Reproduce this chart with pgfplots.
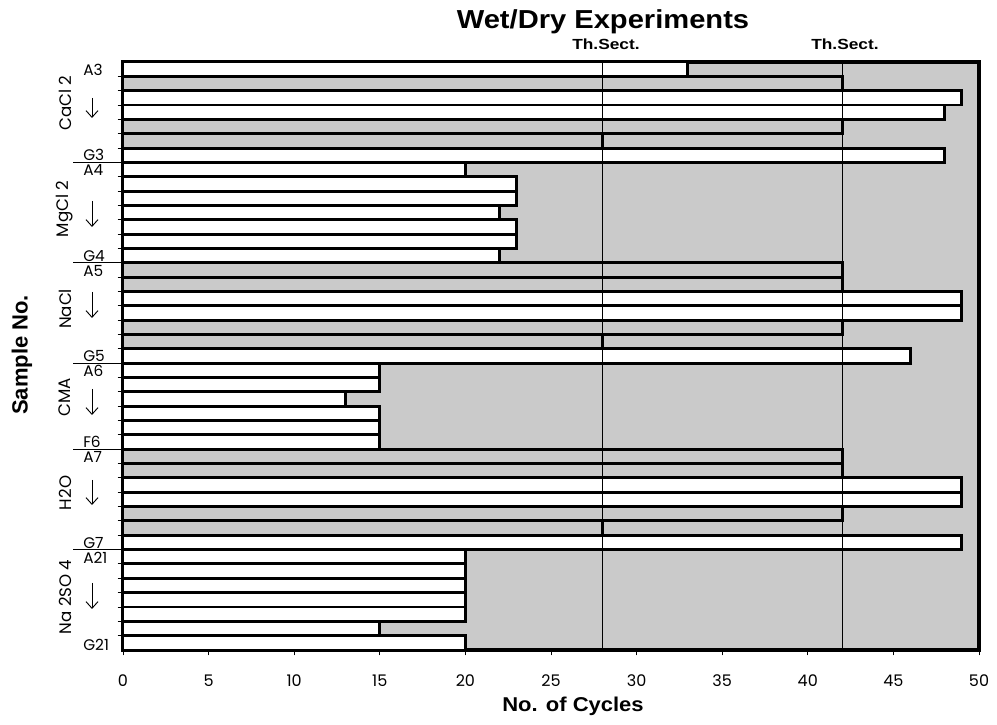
\documentclass[border=0pt]{standalone}
\usepackage{fontspec}
\setmainfont{Liberation Sans}
\newfontfamily\pop{Poppins}
\usepackage{graphicx}
\usepackage{pgfplots}
\usepackage{pgfplotstable}
\pgfplotsset{compat=1.18}
\usetikzlibrary{arrows.meta}
\definecolor{stip}{RGB}{202,202,202}

% white bars (y = row position, 41 = top)
\pgfplotstableread{
y v
41 33
39 49
38 48
35 48
34 20
33 23
32 23
31 22
30 23
29 23
28 22
25 49
24 49
21 46
20 15
19 15
18 13
17 15
16 15
15 15
12 49
11 49
8 49
7 20
6 20
5 20
4 20
3 20
2 15
1 20
}\whitebars

% grey bars
\pgfplotstableread{
y v
40 42
37 42
36 28
27 42
26 42
23 42
22 28
14 42
13 42
10 42
9 28
}\greybars

\tikzset{
  lab/.style={anchor=west, inner sep=0pt, font=\pop\fontsize{11.5}{13}\selectfont},
  labG/.style={anchor=base west, inner sep=0pt, font=\pop\fontsize{11.5}{13}\selectfont},
  labA/.style={anchor=north west, inner sep=0pt, font=\pop\fontsize{11.5}{13}\selectfont},
}

\begin{document}
\begin{tikzpicture}
\path[use as bounding box] (0,0) rectangle (747.75pt,543.75pt);
\begin{axis}[
  at={(92.25pt,56.25pt)}, anchor=south west,
  scale only axis, width=642pt, height=441pt,
  xmin=0, xmax=50, ymin=0.5, ymax=41.5,
  xbar, bar width=1, bar shift=0pt,
  axis background/.style={fill=stip},
  axis line style={line width=2.4pt},
  xtick={0,5,...,50},
  xticklabels={0,5,10,15,20,25,30,35,40,45,50},
  xticklabel style={font=\pop\fontsize{12}{14}\selectfont, yshift=-11pt},
  ytick={1.5,2.5,...,40.5}, yticklabels={},
  xtick pos=left, ytick pos=left,
  tick align=outside, major tick length=4pt,
  tick style={black, line width=0.7pt},
  clip=false,
]
\addplot[fill=white, draw=black, line width=2.2pt] table[x=v, y=y] {\whitebars};
\addplot[fill=stip, draw=black, line width=2.2pt] table[x=v, y=y] {\greybars};
\draw[line width=0.6pt] (axis cs:28,0.5) -- (axis cs:28,41.5);
\draw[line width=0.6pt] (axis cs:42,0.5) -- (axis cs:42,41.5);
\draw[line width=0.6pt] (axis cs:0,34.5) -- ([xshift=-37.5pt]axis cs:0,34.5);
\draw[line width=0.6pt] (axis cs:0,27.5) -- ([xshift=-37.5pt]axis cs:0,27.5);
\draw[line width=0.6pt] (axis cs:0,20.5) -- ([xshift=-37.5pt]axis cs:0,20.5);
\draw[line width=0.6pt] (axis cs:0,14.5) -- ([xshift=-37.5pt]axis cs:0,14.5);
\draw[line width=0.6pt] (axis cs:0,7.5) -- ([xshift=-37.5pt]axis cs:0,7.5);
\node[lab] at ([xshift=-30pt,yshift=-0.8pt]axis cs:0,41) {A3};
\node[labG] at ([xshift=-30pt,yshift=1.2pt]axis cs:0,34.5) {G3};
\node[labA] at ([xshift=-30pt,yshift=-1.6pt]axis cs:0,34.5) {A4};
\node[labG] at ([xshift=-30pt,yshift=1.2pt]axis cs:0,27.5) {G4};
\node[labA] at ([xshift=-30pt,yshift=-1.6pt]axis cs:0,27.5) {A5};
\node[labG] at ([xshift=-30pt,yshift=1.2pt]axis cs:0,20.5) {G5};
\node[labA] at ([xshift=-30pt,yshift=-1.6pt]axis cs:0,20.5) {A6};
\node[labG] at ([xshift=-30pt,yshift=1.2pt]axis cs:0,14.5) {F6};
\node[labA] at ([xshift=-30pt,yshift=-1.6pt]axis cs:0,14.5) {A7};
\node[labG] at ([xshift=-30pt,yshift=1.2pt]axis cs:0,7.5) {G7};
\node[labA] at ([xshift=-30pt,yshift=-1.6pt]axis cs:0,7.5) {A21};
\node[lab] at ([xshift=-30pt,yshift=-1.2pt]axis cs:0,1) {G21};
\end{axis}
\begin{scope}[x=0.75pt, y=-0.75pt, shift={(0pt,543.75pt)}]
\node[anchor=base, inner sep=0pt, font=\bfseries\fontsize{19.5}{22}\selectfont] at (603,29) {\scalebox{1.12}[1]{Wet/Dry Experiments}};
\node[anchor=base, inner sep=0pt, font=\bfseries\fontsize{11}{13}\selectfont] at (606,50) {\scalebox{1.18}[1]{Th.Sect.}};
\node[anchor=base, inner sep=0pt, font=\bfseries\fontsize{11}{13}\selectfont] at (845,50) {\scalebox{1.18}[1]{Th.Sect.}};
\node[font=\bfseries\fontsize{15}{18}\selectfont] at (573,706) {\scalebox{1.1}[1]{No. of Cycles}};
\node[rotate=90, font=\bfseries\fontsize{16.5}{19}\selectfont] at (22,355) {Sample No.};
\foreach \txt/\yc in {CaCl 2/103, MgCl 2/209, NaCl/309, CMA/397, H2O/493, Na 2SO 4/597}{
  \node[rotate=90, font=\pop\fontsize{12.5}{14}\selectfont] at (65,\yc) {\txt};
}
\foreach \ya/\yb in {98/118, 201/227, 292/318, 389/415, 480/505, 583/609}{
  \draw[line width=0.7pt, -{Straight Barb[length=5pt,width=9pt]}] (92,\ya) -- (92,\yb);
}
\end{scope}
\end{tikzpicture}
\end{document}
